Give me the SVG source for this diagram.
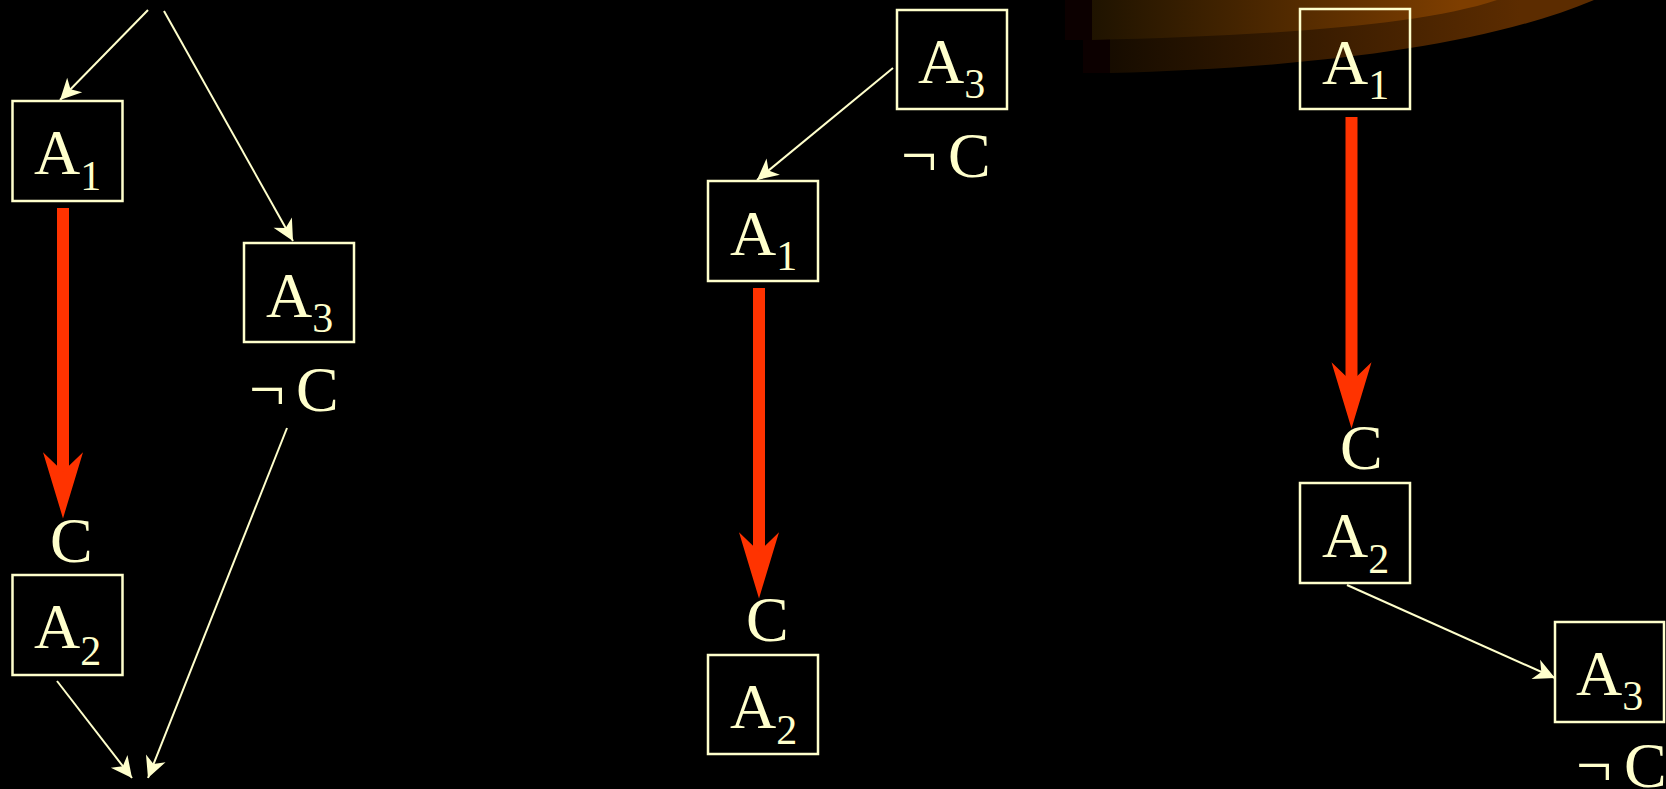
<svg xmlns="http://www.w3.org/2000/svg" width="1666" height="789" viewBox="0 0 1666 789">
<defs>
<style>
.box{fill:none;stroke:#FFFFCC;stroke-width:2.5}
.t{font-family:"Liberation Serif","Times New Roman",serif;font-size:64px;fill:#FFFFCC}
.s{font-size:42px}
.thin{fill:none;stroke:#FFFFCC;stroke-width:2;marker-end:url(#ah)}
.red{fill:none;stroke:#FF3300;stroke-width:12;marker-end:url(#rh)}
</style>
<marker id="ah" markerUnits="userSpaceOnUse" markerWidth="30" markerHeight="30" refX="14" refY="0" viewBox="-2 -10 20 20" orient="auto" overflow="visible">
<path d="M0,-7 L14,0 L0,7 L4,0 Z" fill="#FFFFCC"/>
</marker>
<marker id="rh" markerUnits="userSpaceOnUse" markerWidth="80" markerHeight="60" refX="20" refY="0" viewBox="-5 -25 70 50" orient="auto" overflow="visible">
<path d="M0,-17.5 L58,0 L0,17.5 L17,0 Z" fill="#FF3300"/>
</marker>
<linearGradient id="gLow" gradientUnits="userSpaceOnUse" x1="1083" y1="0" x2="1520" y2="0">
<stop offset="0" stop-color="#120a00"/>
<stop offset="1" stop-color="#5c2c00"/>
</linearGradient>
<linearGradient id="gUp" gradientUnits="userSpaceOnUse" x1="1065" y1="0" x2="1460" y2="0">
<stop offset="0" stop-color="#181000"/>
<stop offset="1" stop-color="#7e3e00"/>
</linearGradient>
</defs>
<rect width="1666" height="789" fill="#000000"/>
<g id="swoosh">
<rect x="1083" y="0" width="30" height="73" fill="#0c0000"/>
<path d="M1110,0 L1110,73 C1300,68 1480,48 1594,0 Z" fill="url(#gLow)"/>
<rect x="1065" y="0" width="30" height="40" fill="#0c0000"/>
<path d="M1092,0 L1092,40 C1260,36 1420,26 1497,0 Z" fill="url(#gUp)"/>
</g>
<g id="connectors">
<line class="thin" x1="148" y1="10" x2="60" y2="100"/>
<line class="thin" x1="164" y1="11" x2="293" y2="241"/>
<line class="thin" x1="57" y1="681" x2="132" y2="778"/>
<line class="thin" x1="287" y1="428" x2="148" y2="778"/>
<line class="red" x1="63" y1="208" x2="63" y2="475"/>
<line class="thin" x1="893" y1="68" x2="757" y2="180"/>
<line class="red" x1="759" y1="288" x2="759" y2="555"/>
<line class="red" x1="1351.5" y1="117" x2="1351.5" y2="385"/>
<line class="thin" x1="1347" y1="585" x2="1555" y2="678"/>
</g>
<g id="L-A1"><rect class="box" x="12.5" y="101" width="110" height="100"/><text class="t" x="34" y="174">A<tspan class="s" dy="16">1</tspan></text></g>
<g id="L-C"><text class="t" x="50" y="562">C</text></g>
<g id="L-A2"><rect class="box" x="12.5" y="575" width="110" height="100"/><text class="t" x="34" y="648">A<tspan class="s" dy="17">2</tspan></text></g>
<g id="L-A3"><rect class="box" x="244" y="243" width="110" height="99"/><text class="t" x="266" y="317">A<tspan class="s" dy="15">3</tspan></text></g>
<g id="L-notC"><text class="t" y="411"><tspan x="249">¬</tspan><tspan x="296">C</tspan></text></g>
<g id="M-A3"><rect class="box" x="897" y="10" width="110" height="99"/><text class="t" x="918" y="83">A<tspan class="s" dy="15">3</tspan></text></g>
<g id="M-notC"><text class="t" y="177"><tspan x="901">¬</tspan><tspan x="948">C</tspan></text></g>
<g id="M-A1"><rect class="box" x="708" y="181" width="110" height="100"/><text class="t" x="730" y="255">A<tspan class="s" dy="15">1</tspan></text></g>
<g id="M-C"><text class="t" x="746" y="641">C</text></g>
<g id="M-A2"><rect class="box" x="708" y="655" width="110" height="99"/><text class="t" x="730" y="728">A<tspan class="s" dy="16">2</tspan></text></g>
<g id="R-A1"><rect class="box" x="1300" y="9" width="110" height="100"/><text class="t" x="1322" y="84">A<tspan class="s" dy="15">1</tspan></text></g>
<g id="R-C"><text class="t" x="1340" y="469">C</text></g>
<g id="R-A2"><rect class="box" x="1300" y="483" width="110" height="100"/><text class="t" x="1322" y="557">A<tspan class="s" dy="16">2</tspan></text></g>
<g id="R-A3"><rect class="box" x="1555" y="622" width="109" height="100"/><text class="t" x="1576" y="695">A<tspan class="s" dy="15">3</tspan></text></g>
<g id="R-notC"><text class="t" y="787"><tspan x="1576">¬</tspan><tspan x="1624">C</tspan></text></g>
</svg>
